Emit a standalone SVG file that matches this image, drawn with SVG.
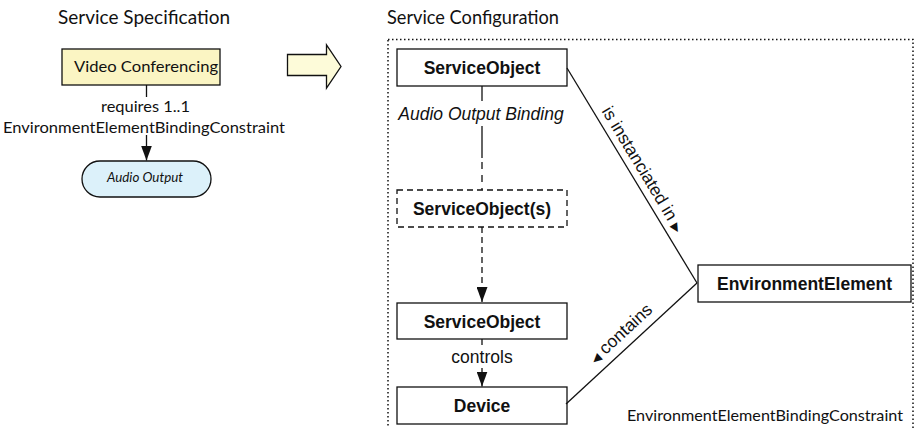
<svg xmlns="http://www.w3.org/2000/svg" width="916" height="428" viewBox="0 0 916 428">
  <style>
    .hum { font-family: Lato, "Open Sans", "DejaVu Sans", sans-serif; fill: #111; }
    .hv { font-family: "Liberation Sans", Arial, "DejaVu Sans", sans-serif; font-size: 17.5px; fill: #111; }
    .b { font-weight: bold; }
    .it { font-style: italic; }
    .box { fill: #fff; stroke: #111; stroke-width: 1.3; }
    .ln { fill: none; stroke: #111; stroke-width: 1.3; }
    .dash { stroke-dasharray: 6 4; }
    .tri { font-family: "DejaVu Sans", sans-serif; font-size: 11.5px; }
  </style>
  <defs>
    <marker id="head" markerUnits="userSpaceOnUse" markerWidth="15" markerHeight="11"
            viewBox="0 0 15 11" refX="15" refY="5.5" orient="auto">
      <path d="M0,0 L15,5.5 L0,11 Z" fill="#111"/>
    </marker>
  </defs>

  <!-- section titles -->
  <text class="hum" x="58" y="24" font-size="19" textLength="172" lengthAdjust="spacingAndGlyphs">Service Specification</text>
  <text class="hum" x="387" y="24" font-size="19" textLength="172" lengthAdjust="spacingAndGlyphs">Service Configuration</text>

  <!-- configuration frame -->
  <rect x="388" y="39.5" width="525" height="420" fill="none" stroke="#111" stroke-width="1.5" stroke-dasharray="1.5 2.5"/>

  <!-- transformation arrow -->
  <polygon points="287.5,54.5 326.5,54.5 326.5,45 341,66.5 326.5,88 326.5,75.5 287.5,75.5"
           fill="#fdfbd9" stroke="#111" stroke-width="1.3" stroke-linejoin="miter"/>

  <!-- specification side -->
  <g id="video-conferencing">
    <rect x="62" y="49" width="158" height="36" fill="#fbf5c3" stroke="#111" stroke-width="1.3"/>
    <text class="hum" x="146" y="72" font-size="15.5" text-anchor="middle" textLength="144" lengthAdjust="spacingAndGlyphs">Video Conferencing</text>
  </g>
  <g id="audio-output">
    <rect x="82" y="161" width="129" height="36" rx="18" ry="18" fill="#dcf1fa" stroke="#111" stroke-width="1.3"/>
    <text class="hum it" x="145" y="182" font-size="13" text-anchor="middle" textLength="76" lengthAdjust="spacingAndGlyphs">Audio Output</text>
  </g>

  <!-- configuration side -->
  <g id="service-object-top">
    <rect class="box" x="397" y="49" width="170" height="37"/>
    <text class="hv b" x="482" y="74" text-anchor="middle">ServiceObject</text>
  </g>
  <g id="service-objects">
    <rect class="box dash" x="397" y="190" width="170" height="37"/>
    <text class="hv b" x="482" y="215" text-anchor="middle">ServiceObject(s)</text>
  </g>
  <g id="service-object-bottom">
    <rect class="box" x="397" y="303" width="170" height="36"/>
    <text class="hv b" x="482" y="327.5" text-anchor="middle">ServiceObject</text>
  </g>
  <g id="device">
    <rect class="box" x="397" y="387" width="170" height="37"/>
    <text class="hv b" x="482" y="412" text-anchor="middle">Device</text>
  </g>
  <g id="environment-element">
    <rect class="box" x="698" y="265" width="213" height="37"/>
    <text class="hv b" x="804.5" y="290" text-anchor="middle">EnvironmentElement</text>
  </g>
  <g id="binding-constraint-label">
    <text class="hum" x="627" y="421" font-size="16" textLength="276" lengthAdjust="spacingAndGlyphs">EnvironmentElementBindingConstraint</text>
  </g>

  <!-- connectors -->
  <g id="connectors">
    <!-- requires 1..1 -->
    <line class="ln" x1="146.5" y1="85" x2="146.5" y2="97"/>
    <text class="hum" x="145.5" y="112" font-size="16" text-anchor="middle" textLength="89" lengthAdjust="spacingAndGlyphs">requires 1..1</text>
    <text class="hum" x="144" y="133" font-size="16" text-anchor="middle" textLength="282" lengthAdjust="spacingAndGlyphs">EnvironmentElementBindingConstraint</text>
    <line class="ln" x1="146.5" y1="135" x2="146.5" y2="160.5" marker-end="url(#head)"/>

    <!-- Audio Output Binding -->
    <line class="ln" x1="482" y1="86" x2="482" y2="101"/>
    <text class="hv it" x="481" y="120" text-anchor="middle">Audio Output Binding</text>
    <line class="ln" x1="482" y1="126" x2="482" y2="158"/>
    <line class="ln" x1="482" y1="162" x2="482" y2="190" stroke-dasharray="7 6"/>

    <!-- ServiceObject(s) to ServiceObject -->
    <line class="ln dash" x1="482" y1="227" x2="482" y2="302" marker-end="url(#head)"/>

    <!-- controls -->
    <line class="ln" x1="482" y1="339" x2="482" y2="345"/>
    <text class="hv" x="482" y="363" text-anchor="middle">controls</text>
    <line class="ln" x1="482" y1="368" x2="482" y2="386.5" marker-end="url(#head)"/>

    <!-- is instanciated in -->
    <line class="ln" x1="567" y1="68" x2="697" y2="283"/>
    <text class="hv" transform="translate(601.2,111) rotate(58.84)">is instanciated in <tspan class="tri">▶</tspan></text>

    <!-- contains -->
    <line class="ln" x1="566" y1="404" x2="697" y2="283"/>
    <text class="hv" transform="translate(595.5,364.5) rotate(-42.72)"><tspan class="tri">◀</tspan> contains</text>
  </g>
</svg>
